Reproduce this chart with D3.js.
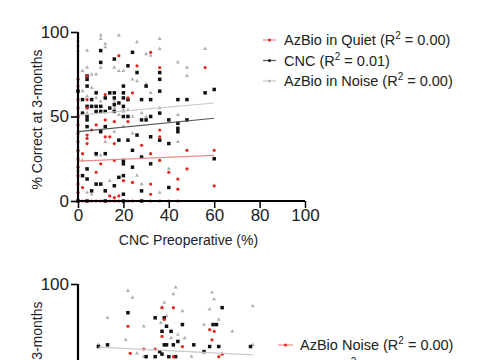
<!DOCTYPE html>
<html><head><meta charset="utf-8">
<script src="https://cdn.jsdelivr.net/npm/d3@7/dist/d3.min.js"></script>
<style>body{margin:0;background:#fff;}svg{display:block;font-family:"Liberation Sans",Arial,sans-serif;}</style>
</head><body>
<script>
// ---------- DATA ----------
const xTicksMajor = [0, 20, 40, 60, 80, 100];
const yTicksMajor = [0, 50, 100];

// Top panel: CNC preoperative (x) vs score at 3 months (y)
const quietTop = [[0,72],[0,68],[0,60],[0,55],[0,50],[0,45],[0,40],[0,35],[0,30],[0,25],[0,20],[0,15],[0,10],[0,5],[0,0],
[4,74],[18,86],[26,80],[32,88],[36,79],[56,79],[4,60],[12,63],[24,64],[22,61],[4,55],[8,45],[12,48],[16,47],[22,47],
[4,39],[4,37],[4,34],[12,38],[16,34],[36,38],[36,42],[48,30],[60,30],[36,24],[16,24],[8,17],[32,28],[24,11],[40,17],
[48,19],[44,13],[32,10],[32,4],[14,3],[16,2],[18,3],[60,9],[44,7],[2,0],[4,0],[6,0],[8,0],[10,0],[12,0],[14,0],[16,0],
[18,0],[20,0],[22,0],[24,0],[28,0],[32,0],[36,0],[40,0],[44,0],[2,28],[6,42],[10,22],[28,33],[20,12],[14,38],[2,8]];
const cncTop = [[10,89],[24,88],[16,84],[22,80],[10,82],[26,76],[36,76],[4,74],[4,72],[36,72],[4,68],[20,68],[30,68],
[0,65],[14,64],[16,64],[20,64],[36,65],[60,66],[56,64],[8,64],[2,60],[6,60],[12,61],[16,61],[20,61],[22,60],[28,60],
[32,60],[44,60],[48,60],[4,56],[6,56],[8,56],[10,56],[14,55],[16,57],[18,58],[20,56],[2,52],[4,50],[4,48],[8,53],
[10,53],[12,53],[16,53],[20,50],[22,50],[28,48],[30,48],[32,50],[36,52],[40,48],[44,46],[44,43],[44,41],[48,48],
[4,44],[10,41],[12,44],[18,36],[22,36],[26,39],[32,38],[36,36],[40,34],[8,28],[12,28],[24,30],[20,24],[20,22],
[28,26],[60,25],[24,20],[32,22],[4,19],[2,15],[4,13],[6,6],[8,10],[10,10],[12,6],[16,9],[18,14],[20,15],[20,4],
[28,6],[40,8],[0,0],[4,0],[12,0],[20,0],[28,0]];
const noiseTop = [[10,98],[10,96],[18,98],[26,94],[36,96],[36,90],[56,90],[12,93],[12,91],[4,89],[0,95],[0,92],[0,89],
[30,87],[32,86],[44,82],[48,79],[48,74],[2,77],[4,79],[6,75],[8,75],[16,79],[18,77],[20,77],[10,79],[24,72],[26,71],
[30,69],[32,64],[4,62],[8,61],[10,59],[16,59],[4,55],[16,55],[20,54],[22,54],[4,52],[8,52],[16,53],[18,51],[20,53],
[24,50],[30,50],[36,55],[28,52],[44,51],[8,27],[10,27],[16,47],[16,41],[44,35],[40,19],[4,5],[6,4],[10,10],[28,10],
[36,5],[20,44],[24,40],[12,35],[0,30],[0,18],[2,24],[26,15],[14,12],[2,65],[6,67]];
// fitted lines: [intercept, slope, xStart, xEnd]
const fitQuietTop = [23.6, 0.057, 0, 60];
const fitCncTop   = [41.0, 0.133, 0, 60];
const fitNoiseTop = [50.8, 0.12, 0, 60];
const legendTop = [
  {name: "AzBio in Quiet", r2: "0.00", key: "quiet"},
  {name: "CNC", r2: "0.01", key: "cnc"},
  {name: "AzBio in Noise", r2: "0.00", key: "noise"}
];

// Bottom panel (partially visible)
const noiseBot = [[22,96],[24,92],[13,80],[21,67],[9,64],[43,98],[42,94],[38,89],[37,86],[39,81],[46,84],[29,75],
[36.5,77],[41,68],[47,68],[59,95],[60,91],[58,85],[55.5,76],[62,79],[68,72],[77,87],[77,64],[26,59],[44,70],[37,72],
[29,57],[50,57]];
const cncBot = [[22,83],[9,63],[13,64],[34,80],[38,80],[39,75],[37,72],[46,76],[41,72],[38,64],[39,64],[42,64],[44,66],
[51,64],[36,60],[55.5,60],[58,63],[59.5,76],[61,76],[63.5,86],[62,63],[76,63],[30,57],[34,57],[37,58.5],[40,57],[43,57]];
const quietBot = [[22,75],[37,86],[38,79],[42,86],[37,69],[58,73],[60,72],[59,67],[23,59],[29,61.5],[34,61.5],[46,63],
[63.5,58.5],[42,57],[62,57]];
const fitNoiseBot = [63.2, -0.066, 9, 77];
const yTicksBot = [100];
const legendBot = [
  {name: "AzBio Noise", r2: "0.00", key: "quiet"},
  {name: "CNC", r2: "0.00", key: "noise"}
];

// ---------- STYLE ----------
const colors = {quiet: "#e8231e", cnc: "#111111", noise: "#b0b0b0"};
const fitColors = {quiet: "#f08a86", cnc: "#555555", noise: "#c8c8c8"};

const W = 485, H = 360;
const svg = d3.select("body").append("svg").attr("width", W).attr("height", H);

function drawPanel(cfg) {
  const x = d3.scaleLinear().domain([0, 100]).range([78, 305]);
  const y = d3.scaleLinear().domain([0, 100]).range([cfg.y0, cfg.y0 - 169]);
  const g = svg.append("g");

  // points
  const sym = d3.symbol();
  g.selectAll(".n").data(cfg.noise).join("path")
    .attr("transform", d => `translate(${x(d[0])},${y(d[1])})`)
    .attr("d", sym.type(d3.symbolTriangle).size(7)())
    .attr("fill", colors.noise);
  g.selectAll(".c").data(cfg.cnc).join("rect")
    .attr("x", d => x(d[0]) - 1.75).attr("y", d => y(d[1]) - 1.75)
    .attr("width", 3.5).attr("height", 3.5).attr("fill", colors.cnc);
  g.selectAll(".q").data(cfg.quiet).join("circle")
    .attr("cx", d => x(d[0])).attr("cy", d => y(d[1])).attr("r", 1.6)
    .attr("fill", colors.quiet);

  // fits
  cfg.fits.forEach(f => {
    const [b, m, x0, x1] = f.v;
    g.append("line")
      .attr("x1", x(x0)).attr("y1", y(b + m * x0))
      .attr("x2", x(x1)).attr("y2", y(b + m * x1))
      .attr("stroke", fitColors[f.key]).attr("stroke-width", 1.2);
  });

  // y axis
  const yMinor = d3.range(0, 101, 5);
  const ay = g.append("g").attr("transform", "translate(78,0)");
  ay.call(d3.axisLeft(y).tickValues(yMinor).tickSize(4).tickFormat(""));
  ay.call(d3.axisLeft(y).tickValues(cfg.yLabels).tickSize(7).tickPadding(2).tickFormat(d3.format("d")));
  ay.selectAll("path.domain").attr("stroke-width", 2.2).attr("d", `M0,${y(0)}V${y(100)}`);
  ay.selectAll(".tick line").attr("stroke-width", 1.6);
  ay.selectAll("text").attr("font-size", 17).attr("fill", "#222")
    .attr("font-family", "Liberation Sans, Arial, sans-serif");

  if (cfg.showX) {
    const xMinor = d3.range(0, 101, 2);
    const ax = g.append("g").attr("transform", `translate(0,${cfg.y0})`);
    ax.call(d3.axisBottom(x).tickValues(xMinor).tickSize(4).tickFormat(""));
    ax.call(d3.axisBottom(x).tickValues(xTicksMajor).tickSize(7).tickPadding(1).tickFormat(d3.format("d")));
    ax.selectAll("path.domain").attr("stroke-width", 2.2).attr("d", `M${x(0)},0H${x(100)}`);
    ax.selectAll(".tick line").attr("stroke-width", 1.5);
    ax.selectAll("text").attr("font-size", 17).attr("fill", "#222")
      .attr("font-family", "Liberation Sans, Arial, sans-serif");
    g.append("text").attr("x", x(50) - 3).attr("y", cfg.y0 + 44).attr("text-anchor", "middle")
      .attr("font-size", 14).attr("fill", "#222").text("CNC Preoperative (%)");
  }

  g.append("text").attr("transform", `translate(42,${y(50) + 3}) rotate(-90)`).attr("text-anchor", "middle")
    .attr("font-size", 14).attr("fill", "#222").text("% Correct at 3-months");

  // legend
  cfg.legend.forEach((l, i) => {
    const ly = cfg.legY + i * 20.5;
    const lg = g.append("g");
    lg.append("line").attr("x1", cfg.legX).attr("x2", cfg.legX + cfg.legLen).attr("y1", ly).attr("y2", ly)
      .attr("stroke", fitColors[l.key]).attr("stroke-width", 1.2);
    lg.append("circle").attr("cx", cfg.legX + cfg.legLen / 2).attr("cy", ly).attr("r", 1.5).attr("fill", colors[l.key]);
    const t = lg.append("text").attr("x", cfg.legX + cfg.legLen + cfg.legGap).attr("y", ly + 5)
      .attr("font-size", 14.5).attr("fill", "#222");
    t.append("tspan").text(`${l.name} (R`);
    t.append("tspan").attr("dy", -6).attr("font-size", 10).text("2");
    t.append("tspan").attr("dy", 6).text(` = ${l.r2})`);
  });
}

drawPanel({y0: 201, quiet: quietTop, cnc: cncTop, noise: noiseTop, showX: true, yLabels: yTicksMajor,
  fits: [{key: "quiet", v: fitQuietTop}, {key: "cnc", v: fitCncTop}, {key: "noise", v: fitNoiseTop}],
  legend: legendTop, legX: 263, legLen: 13, legGap: 8, legY: 40});
drawPanel({y0: 453, quiet: quietBot, cnc: cncBot, noise: noiseBot, showX: false, yLabels: yTicksBot,
  fits: [{key: "noise", v: fitNoiseBot}],
  legend: legendBot, legX: 278, legLen: 15, legGap: 7, legY: 345});
</script>
</body></html>
